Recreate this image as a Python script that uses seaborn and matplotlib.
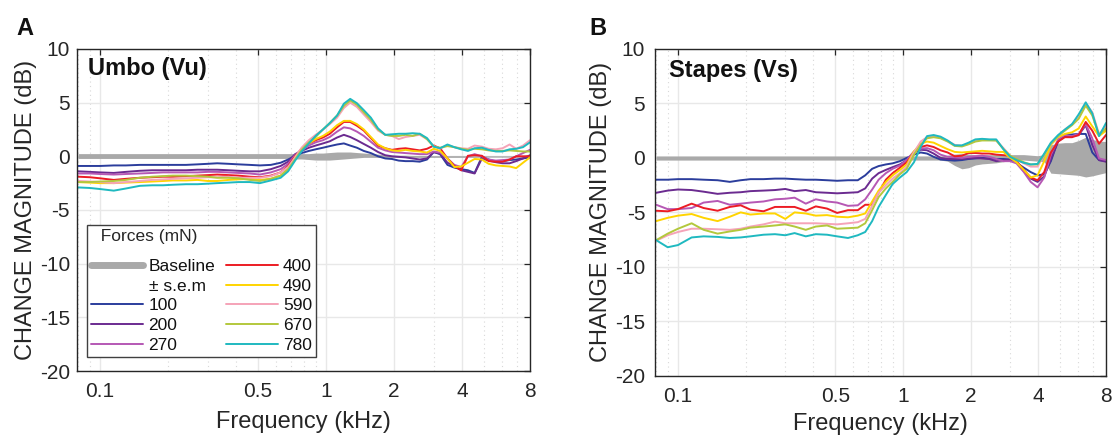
import matplotlib
matplotlib.use("Agg")
import numpy as np
import pandas as pd
import matplotlib.pyplot as plt
import seaborn as sns
from matplotlib.lines import Line2D
from matplotlib.ticker import FixedLocator, NullFormatter

# frequency points (kHz)
freq_khz = [0.08, 0.09, 0.1, 0.115, 0.13, 0.15, 0.17, 0.19, 0.21, 0.24,
            0.27, 0.3, 0.33, 0.37, 0.41, 0.46, 0.51, 0.57, 0.63, 0.68,
            0.73, 0.78, 0.84, 0.9, 0.97, 1.04, 1.12, 1.2, 1.28, 1.37,
            1.47, 1.58, 1.7, 1.83, 1.96, 2.1, 2.25, 2.42, 2.6, 2.8,
            3.0, 3.2, 3.45, 3.7, 3.97, 4.25, 4.55, 4.9, 5.25, 5.65,
            6.05, 6.5, 6.95, 7.45, 8.0]

forces = ["100", "200", "270", "400", "490", "590", "670", "780"]
force_colors = ["#2b3d9c", "#6b2b90", "#b658b4", "#ec1c24",
                "#ffd400", "#f5a3b8", "#b3c83c", "#1fb9c0"]

# Panel A - umbo (dB)
umbo_100 = [-0.9, -0.9, -0.9, -0.85, -0.85, -0.8, -0.8, -0.8, -0.8, -0.8,
            -0.75, -0.7, -0.65, -0.7, -0.75, -0.8, -0.85, -0.8, -0.6, -0.3,
            0.05, 0.3, 0.5, 0.65, 0.8, 0.95, 1.1, 1.2, 1.0, 0.8,
            0.5, 0.3, 0.0, -0.2, -0.25, -0.4, -0.45, -0.45, -0.5, -0.3,
            0.4, 0.2, -0.8, -1.05, -1.2, -1.3, -1.55, -0.05, -0.3, -0.5,
            -0.45, -0.35, -0.3, -0.2, -0.1]
umbo_200 = [-1.4, -1.45, -1.5, -1.55, -1.45, -1.35, -1.3, -1.3, -1.3, -1.3,
            -1.25, -1.25, -1.25, -1.3, -1.35, -1.4, -1.4, -1.2, -0.9, -0.5,
            0.2, 0.5, 0.8, 1.0, 1.2, 1.4, 1.75, 2.0, 1.8, 1.5,
            1.15, 0.8, 0.4, 0.1, 0.0, -0.05, -0.1, -0.2, -0.3, -0.2,
            0.4, 0.25, -0.6, -0.9, -1.3, -1.45, -1.6, -0.2, -0.4, -0.55,
            -0.65, -0.65, -0.45, -0.2, 0.1]
umbo_270 = [-1.6, -1.6, -1.65, -1.7, -1.65, -1.6, -1.55, -1.5, -1.5, -1.5,
            -1.5, -1.45, -1.45, -1.5, -1.55, -1.6, -1.7, -1.5, -1.2, -0.7,
            0.1, 0.6, 1.0, 1.3, 1.5, 1.8, 2.3, 2.7, 2.6, 2.3,
            1.9, 1.35, 0.8, 0.55, 0.4, 0.35, 0.3, 0.25, 0.2, 0.2,
            0.45, 0.35, -0.2, -0.8, -1.0, 0.0, 0.2, 0.0, -0.3, -0.4,
            -0.35, -0.3, 0.0, 0.3, 0.6]
umbo_400 = [-1.9, -1.95, -2.05, -2.2, -2.1, -2.0, -1.95, -1.9, -1.9, -1.85,
            -1.8, -1.75, -1.7, -1.75, -1.8, -1.9, -1.95, -1.8, -1.5, -0.9,
            0.0, 0.7, 1.2, 1.5, 1.75, 2.1, 2.7, 3.2, 3.2, 2.85,
            2.4, 1.7, 1.0, 0.75, 0.6, 0.7, 0.75, 0.65, 0.55, 0.7,
            1.0, 0.75, -0.2, -0.9, -1.3, 0.05, 0.1, 0.05, -0.45, -0.5,
            -0.5, -0.3, 0.0, 0.0, 0.0]
umbo_490 = [-2.4, -2.45, -2.5, -2.5, -2.45, -2.4, -2.35, -2.3, -2.25, -2.25,
            -2.2, -2.3, -2.3, -2.2, -2.15, -2.1, -2.2, -2.1, -1.8, -1.2,
            -0.1, 0.7, 1.2, 1.6, 1.9, 2.3, 2.9, 3.3, 3.3, 3.0,
            2.5, 1.8, 1.1, 0.75, 0.55, 0.5, 0.6, 0.5, 0.45, 0.35,
            0.7, 0.5, -0.2, -1.0, -0.95, -0.6, -0.25, -0.3, -0.7, -0.85,
            -0.9, -0.95, -1.1, -0.6, -0.1]
umbo_590 = [-2.3, -2.35, -2.4, -2.5, -2.4, -2.3, -2.2, -2.15, -2.1, -2.05,
            -2.0, -1.95, -1.95, -1.9, -2.0, -2.0, -2.0, -1.85, -1.5, -1.0,
            -0.1, 0.8, 1.5, 2.0, 2.5, 3.0, 3.6, 4.5, 5.0, 4.6,
            3.9, 3.2, 2.4, 2.0, 1.9, 1.6, 1.8, 1.9, 2.0, 1.6,
            0.95, 0.7, 1.05, 0.85, 0.75, 0.7, 1.0, 0.9, 0.7, 0.65,
            0.75, 1.1, 0.7, 1.0, 1.5]
umbo_670 = [-2.4, -2.4, -2.35, -2.3, -2.2, -2.0, -1.9, -1.85, -1.8, -1.8,
            -1.85, -1.9, -2.0, -2.0, -2.05, -2.2, -2.3, -2.1, -1.8, -1.2,
            -0.3, 0.6, 1.3, 1.8, 2.5, 3.1, 3.8, 4.7, 5.2, 4.8,
            4.1, 3.4, 2.5, 2.0, 1.9, 1.9, 2.0, 1.9, 2.1, 1.6,
            0.9, 0.8, 0.95, 0.85, 0.7, 0.6, 0.7, 0.65, 0.55, 0.5,
            0.5, 0.55, 0.5, 0.45, 0.45]
umbo_780 = [-2.9, -2.95, -3.05, -3.2, -3.0, -2.75, -2.7, -2.7, -2.65, -2.6,
            -2.6, -2.55, -2.5, -2.45, -2.4, -2.4, -2.5, -2.25, -2.0, -1.4,
            -0.4, 0.45, 1.2, 1.9, 2.5, 3.1, 3.8, 4.9, 5.35, 4.95,
            4.3, 3.6, 2.6, 2.0, 2.05, 2.1, 2.1, 2.15, 2.1, 1.7,
            0.9, 0.75, 1.1, 0.85, 0.65, 0.5, 0.75, 0.8, 0.6, 0.45,
            0.45, 0.65, 0.7, 0.85, 1.3]
umbo_base_lo = [-0.2] * 20 + [-0.25, -0.25, -0.3, -0.35, -0.35, -0.35, -0.3, -0.25, -0.2, -0.15,
                              -0.1, -0.1, -0.1, -0.1, -0.1, -0.1, -0.1, -0.1, -0.1, -0.1,
                              -0.1, -0.1, -0.1, -0.1, -0.1, -0.1, -0.1, -0.08, -0.08, -0.08,
                              -0.08, -0.08, -0.08, -0.08, -0.08]
umbo_base_hi = [0.25] * 20 + [0.25, 0.25, 0.25, 0.3, 0.3, 0.35, 0.4, 0.4, 0.4, 0.35,
                              0.3, 0.25, 0.2, 0.15, 0.1, 0.1, 0.1, 0.08, 0.08, 0.08,
                              0.06, 0.06, 0.06, 0.06, 0.06, 0.05, 0.05, 0.05, 0.05, 0.05,
                              0.05, 0.05, 0.05, 0.05, 0.05]

# Panel B - stapes (dB)
stapes_100 = [-2.0, -2.0, -1.95, -1.95, -2.0, -2.05, -2.2, -2.05, -1.95, -1.95,
              -1.9, -1.9, -1.95, -2.0, -2.0, -2.05, -2.1, -2.05, -2.05, -1.6,
              -1.0, -0.75, -0.6, -0.5, -0.3, 0.0, 0.3, 0.5, 0.4, 0.1,
              -0.15, -0.2, -0.25, -0.2, -0.1, -0.05, 0.0, -0.05, -0.1, -0.1,
              -0.15, -0.45, -0.9, -1.3, -1.6, -1.5, -0.3, 1.6, 2.1, 2.15,
              2.2, 2.2, 0.5, -0.2, -0.3]
stapes_200 = [-3.2, -3.0, -2.9, -2.95, -3.1, -3.3, -3.2, -3.15, -3.05, -3.0,
              -2.95, -2.85, -3.05, -2.95, -3.15, -3.2, -3.25, -3.2, -3.15, -2.8,
              -1.9, -1.4, -1.1, -0.85, -0.6, -0.2, 0.5, 0.75, 0.7, 0.4,
              0.0, -0.1, -0.1, -0.1, -0.05, 0.0, -0.05, -0.1, -0.3, -0.2,
              -0.2, -0.4, -1.2, -1.9, -2.2, -1.7, -0.1, 1.5, 2.0, 2.0,
              2.1, 3.0, 1.2, -0.2, -0.35]
stapes_270 = [-4.3, -4.7, -4.7, -4.6, -4.1, -3.95, -4.3, -4.2, -4.1, -4.0,
              -3.8, -3.75, -3.65, -4.2, -3.8, -4.0, -4.1, -4.4, -4.35, -3.8,
              -2.9, -2.0, -1.4, -1.0, -0.7, -0.2, 0.6, 0.85, 0.9, 0.7,
              0.3, 0.1, 0.05, 0.0, 0.1, 0.15, 0.2, 0.1, -0.1, -0.3,
              -0.3, -0.5, -1.3, -2.2, -2.7, -1.8, 0.3, 1.7, 2.1, 2.0,
              2.2, 3.1, 1.8, -0.05, -0.2]
stapes_400 = [-4.85, -4.9, -4.7, -4.2, -4.6, -4.85, -4.5, -4.35, -4.75, -4.9,
              -4.5, -4.5, -4.5, -4.85, -4.45, -4.65, -5.05, -4.8, -4.8, -4.3,
              -4.3, -3.2, -2.0, -1.4, -0.9, -0.4, 0.5, 1.0, 1.15, 1.0,
              0.7, 0.5, 0.15, 0.2, 0.45, 0.45, 0.4, 0.4, 0.3, 0.25,
              0.2, -0.3, -1.1, -1.8, -2.05, -1.3, 0.5, 1.5, 1.9, 1.9,
              2.1, 3.3, 2.5, 1.3, 2.1]
stapes_490 = [-5.8, -5.5, -5.3, -5.15, -5.5, -5.8, -5.4, -5.0, -5.2, -5.1,
              -5.1, -5.6, -5.0, -5.1, -5.3, -5.25, -5.4, -5.45, -5.3, -5.1,
              -4.0, -3.0, -2.2, -1.6, -1.1, -0.6, 0.6, 1.3, 1.5, 1.4,
              1.1, 0.8, 0.55, 0.5, 0.55, 0.6, 0.65, 0.6, 0.55, 0.55,
              0.0, -0.4, -1.1, -1.8, -1.6, -0.3, 1.2, 1.9, 2.2, 2.35,
              2.7, 3.8, 2.9, 2.0, 2.5]
stapes_590 = [-7.6, -7.1, -6.8, -6.5, -6.5, -6.55, -6.6, -6.5, -6.3, -6.1,
              -5.85, -6.0, -6.0, -6.0, -6.0, -6.05, -6.1, -6.0, -5.9, -5.6,
              -4.4, -3.2, -2.5, -1.9, -1.4, -0.8, 0.5, 1.5, 1.9, 2.0,
              1.85, 1.55, 1.2, 1.1, 1.3, 1.55, 1.7, 1.65, 1.6, 0.9,
              0.2, -0.15, -0.5, -0.8, -0.8, 0.3, 1.3, 2.0, 2.6, 3.1,
              3.7, 5.0, 4.2, 2.2, 2.9]
stapes_670 = [-7.55, -6.95, -6.5, -6.0, -6.6, -6.95, -6.75, -6.6, -6.4, -6.3,
              -6.2, -6.1, -6.3, -6.6, -6.3, -6.2, -6.5, -6.45, -6.4, -6.0,
              -4.8, -3.6, -2.8, -2.2, -1.5, -1.0, 0.3, 1.2, 1.8, 1.9,
              1.8, 1.5, 1.1, 1.05, 1.25, 1.5, 1.6, 1.6, 1.6, 0.8,
              0.2, -0.1, -0.4, -0.6, -0.6, 0.3, 1.3, 2.0, 2.5, 3.0,
              3.6, 4.8, 3.9, 2.1, 2.7]
stapes_780 = [-7.55, -8.2, -8.0, -7.3, -7.2, -7.25, -7.35, -7.3, -7.2, -7.05,
              -7.0, -7.1, -6.9, -7.2, -7.0, -7.05, -7.2, -7.35, -7.1, -6.8,
              -5.8, -4.5, -3.4, -2.4, -1.8, -1.3, -0.4, 1.0, 2.0, 2.1,
              1.95, 1.6, 1.15, 1.15, 1.4, 1.7, 1.75, 1.7, 1.7, 0.8,
              0.1, -0.2, -0.45, -0.6, -0.55, 0.4, 1.4, 2.1, 2.6, 3.1,
              4.0, 5.1, 4.1, 2.0, 3.2]
stapes_base_lo = [-0.2] * 31 + [-0.3, -0.7, -1.0, -0.9, -0.65, -0.55, -0.5, -0.45, -0.35,
                                -0.25, -0.2, -0.2, -0.25, -0.3, -0.35, -1.4, -1.45, -1.5, -1.55,
                                -1.6, -1.75, -1.65, -1.5, -1.35]
stapes_base_hi = [0.18] * 31 + [0.25, 0.35, 0.4, 0.35, 0.3, 0.3, 0.3, 0.3, 0.3,
                                0.3, 0.3, 0.3, 0.25, 0.2, 0.3, 1.2, 1.35, 1.4, 1.4,
                                1.6, 1.9, 1.7, 1.55, 1.5]

sns.set_theme(style="white")
plt.rcParams["font.family"] = ["Liberation Sans", "DejaVu Sans"]
plt.rcParams["axes.unicode_minus"] = False

ink = "#262626"
band_color = "#a9a9a9"


def panel_frame(series):
    rows = []
    for force, vals in zip(forces, series):
        for f, v in zip(freq_khz, vals):
            rows.append((f, v, force))
    return pd.DataFrame(rows, columns=["freq", "db", "force"])


def draw_panel(ax, series, lo, hi, title, title_x, title_y, ypad, xlabelpad):
    ax.fill_between(freq_khz, lo, hi, color=band_color, lw=0, zorder=1.5)
    sns.lineplot(data=panel_frame(series), x="freq", y="db", hue="force",
                 hue_order=forces, palette=dict(zip(forces, force_colors)),
                 estimator=None, lw=1.4, legend=False, ax=ax, zorder=2)
    ax.set_xscale("log")
    ax.set_xlim(0.079, 8)
    ax.set_ylim(-20, 10)
    ax.set_xticks([0.1, 0.5, 1, 2, 4, 8])
    ax.set_xticklabels(["0.1", "0.5", "1", "2", "4", "8"])
    ax.xaxis.set_minor_locator(FixedLocator([0.08, 0.09, 0.2, 0.3, 0.4, 0.6, 0.7,
                                             0.8, 0.9, 3, 5, 6, 7]))
    ax.xaxis.set_minor_formatter(NullFormatter())
    ax.set_yticks(range(-20, 11, 5))
    ax.grid(True, which="major", color="#e8e8e8", lw=1.0, zorder=0)
    ax.grid(True, which="minor", axis="x", color="#d8d8d8", lw=0.8,
            ls=(0, (1, 3)), zorder=0)
    ax.set_axisbelow(True)
    ax.tick_params(which="major", direction="in", top=True, right=True,
                   length=4, width=0.9, colors=ink, labelsize=15)
    ax.tick_params(which="minor", length=0)
    ax.tick_params(axis="x", pad=8)
    ax.tick_params(axis="y", pad=ypad)
    for sp in ax.spines.values():
        sp.set_color(ink)
        sp.set_linewidth(1.0)
    ax.set_xlabel("Frequency (kHz)", fontsize=17, color=ink, labelpad=xlabelpad)
    ax.set_ylabel("CHANGE MAGNITUDE (dB)", fontsize=17, color=ink, labelpad=2)
    ax.text(title_x, title_y, title, transform=ax.transAxes, fontsize=17,
            fontweight="bold", color="#111111", va="baseline", ha="left")


fig = plt.figure(figsize=(11.12, 4.37), dpi=100)
ax_a = fig.add_axes([0.0692, 0.151, 0.4074, 0.737])
ax_b = fig.add_axes([0.589, 0.140, 0.4056, 0.748])

draw_panel(ax_a, [umbo_100, umbo_200, umbo_270, umbo_400, umbo_490, umbo_590, umbo_670, umbo_780],
           umbo_base_lo, umbo_base_hi, "Umbo (Vu)", 0.024, 0.919, 5, 7)
draw_panel(ax_b, [stapes_100, stapes_200, stapes_270, stapes_400, stapes_490, stapes_590, stapes_670, stapes_780],
           stapes_base_lo, stapes_base_hi, "Stapes (Vs)", 0.031, 0.914, 7, 5)

# legend: baseline + s.e.m in first column with the three lowest forces
handles = [Line2D([], [], color=band_color, lw=5), Line2D([], [], color="none")]
handles += [Line2D([], [], color=c, lw=1.4) for c in force_colors]
labels = ["Baseline", "\u00b1 s.e.m"] + forces
leg = ax_a.legend(handles, labels, ncol=2, loc="lower left",
                  bbox_to_anchor=(0.022, 0.043), borderaxespad=0,
                  title="  Forces (mN)", alignment="left",
                  fontsize=12.5, title_fontsize=12.5, frameon=True,
                  fancybox=False, edgecolor="#404040", framealpha=1,
                  handlelength=3.0, handletextpad=0.3, columnspacing=0.6,
                  labelspacing=0.26, borderpad=0.25)
leg.get_frame().set_linewidth(1.0)
leg._legend_box.sep = 10.5
for t in leg.get_texts():
    t.set_color("#111111")

fig.text(0.0144, 0.92, "A", fontsize=17, fontweight="bold", color="#111111", va="baseline")
fig.text(0.530, 0.92, "B", fontsize=17, fontweight="bold", color="#111111", va="baseline")

fig.savefig("out.png", dpi=100)
